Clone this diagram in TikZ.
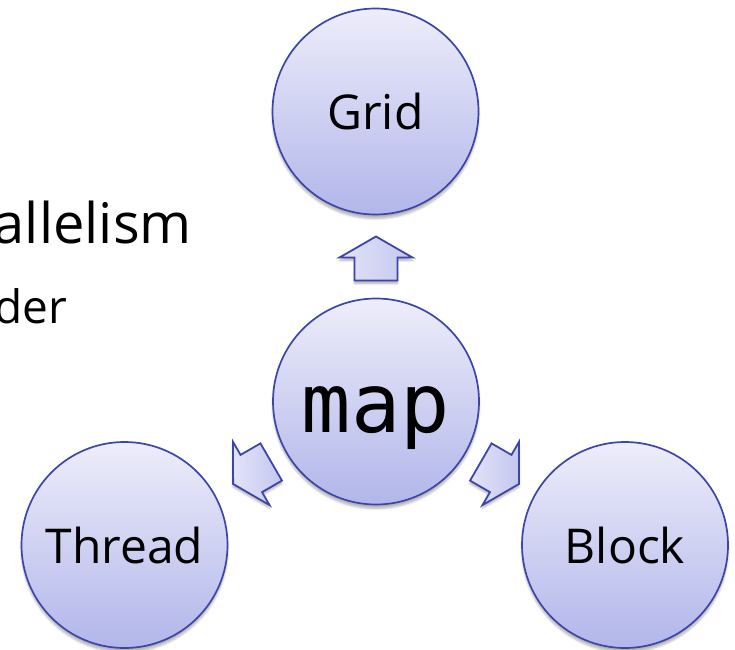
\documentclass[tikz,border=0pt]{standalone}
\usepackage{fontspec}
\setmainfont{Open Sans}
\newfontfamily\codefont{DejaVu Sans Mono}
\usetikzlibrary{calc,shadows,shadows.blur}

\definecolor{ringblue}{RGB}{60,70,170}
\definecolor{disctop}{RGB}{237,237,250}
\definecolor{discbottom}{RGB}{178,182,234}
\definecolor{arrowlight}{RGB}{226,227,248}
\definecolor{arrowdark}{RGB}{196,199,238}

\tikzset{
  disc/.style={circle, draw=ringblue, line width=1.7pt,
    top color=disctop, bottom color=discbottom,
    minimum size=206pt, inner sep=0pt, text depth=0pt,
    blur shadow={shadow xshift=0pt, shadow yshift=-4pt, shadow blur steps=6, shadow opacity=30}},
  arrowbody/.style={draw=ringblue, line width=1.8pt, line join=miter,
    left color=arrowlight, right color=arrowdark,
    blur shadow={shadow xshift=0pt, shadow yshift=-3pt, shadow blur steps=5, shadow opacity=30}},
  bigtext/.style={font=\fontsize{48}{56}\selectfont}
}

\begin{document}
\begin{tikzpicture}[x=1pt,y=1pt]
  \useasboundingbox (0,0) rectangle (735,649);

  % partly hidden slide text on the left
  \node[anchor=base east, inner sep=0pt, font=\fontsize{56}{64}\selectfont] (title) at (192,406) {allelism};
  \node[anchor=base east, inner sep=0pt, font=\fontsize{46}{54}\selectfont] (subtitle) at (67,326) {der};

  % the four circles
  \node[disc, bigtext, text height=37pt] (grid) at (375.5,537.5) {Grid};
  \node[disc, font=\codefont\fontsize{82}{90}\selectfont, text height=61pt] (map) at (376,247.5) {map};
  \node[disc, bigtext, text height=36pt] (thread) at (124.5,104) {Thread};
  \node[disc, bigtext, text height=36pt] (block) at (625,104) {Block};

  % block arrows pointing from map to each circle
  \foreach \a in {90,210,330}{
    \draw[arrowbody]
      ($(map.center)+(\a:121pt)+(\a-90:21.5pt)$) --
      ($(map.center)+(\a:144pt)+(\a-90:21.5pt)$) --
      ($(map.center)+(\a:144pt)+(\a-90:36.5pt)$) --
      ($(map.center)+(\a:165pt)$) --
      ($(map.center)+(\a:144pt)+(\a+90:36.5pt)$) --
      ($(map.center)+(\a:144pt)+(\a+90:21.5pt)$) --
      ($(map.center)+(\a:121pt)+(\a+90:21.5pt)$) -- cycle;
  }
\end{tikzpicture}
\end{document}
